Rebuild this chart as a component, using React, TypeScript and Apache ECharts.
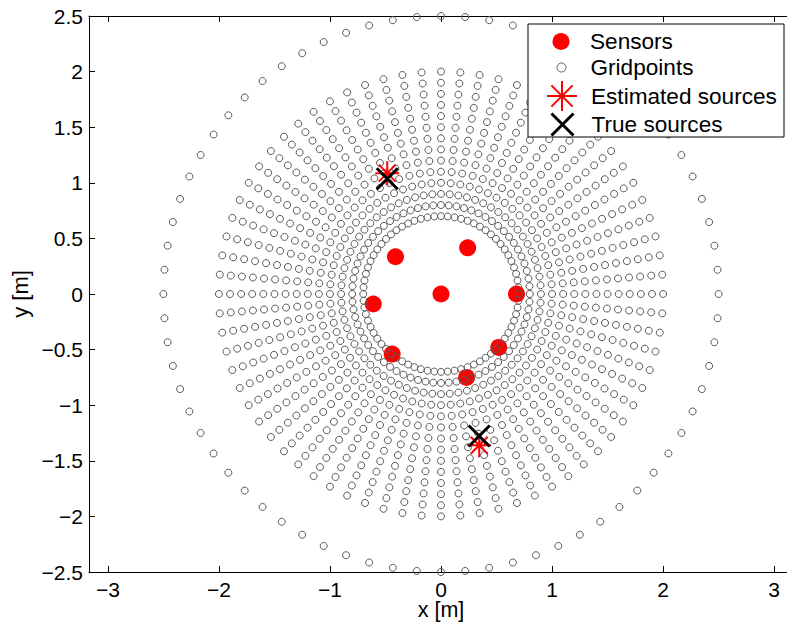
import React, { useEffect, useRef } from "react";
import * as echarts from "echarts";

// Sensor positions [m]
const sensorX = [0, 0.24, -0.41, -0.61, 0.68, 0.52, -0.44, 0.23];
const sensorY = [0, 0.415, 0.335, -0.09, 0, -0.48, -0.54, -0.75];

// Grid of candidate points: rings (radius in m) sampled every gridAngleStepDeg degrees
const gridRadii = [0.7, 0.8, 0.9, 1.0, 1.1, 1.2, 1.3, 1.4, 1.5, 1.6, 1.7, 1.8, 1.9, 2.0, 2.5];
const gridAngleStepDeg = 5;

// Estimated and true source positions [m]
const estX = [-0.484, 0.344];
const estY = [1.087, -1.36];
const trueX = [-0.484, 0.344];
const trueY = [1.036, -1.277];

// Axis ticks
const xTicks = [-3, -2, -1, 0, 1, 2, 3];
const xMin = -3.17;
const xMax = 3.17;
const yMin = -2.5;
const yMax = 2.5;
const yInterval = 0.5;

const FONT = "Liberation Sans";
const fmt = (v: number) => String(v).replace("-", "\u2212");

const ASTERISK =
  "path://M0,-1L0,1M-1,0L1,0M-0.707,-0.707L0.707,0.707M-0.707,0.707L0.707,-0.707";
const CROSS = "path://M-1,-1L1,1M-1,1L1,-1";

export default function App() {
  const ref = useRef<HTMLDivElement>(null);
  useEffect(() => {
    if (!ref.current) return;
    const chart = echarts.init(ref.current, null, { renderer: "svg" });

    const sensors = sensorX.map((x, i) => [x, sensorY[i]]);
    const gridPts: number[][] = [];
    const nAng = Math.round(360 / gridAngleStepDeg);
    gridRadii.forEach((r) => {
      for (let k = 0; k < nAng; k++) {
        const a = (k * gridAngleStepDeg * Math.PI) / 180;
        gridPts.push([r * Math.cos(a), r * Math.sin(a)]);
      }
    });
    const est = estX.map((x, i) => [x, estY[i]]);
    const tru = trueX.map((x, i) => [x, trueY[i]]);

    const tickStyle = { show: true, inside: true, length: 6, lineStyle: { color: "#000", width: 1 } };
    const lineStyle = { show: true, onZero: false, lineStyle: { color: "#000", width: 1 } };
    const labelStyle = { color: "#000", fontSize: 21, fontFamily: FONT };

    const legendText = { color: "#000", fontSize: 22.6, fontFamily: FONT };
    const iconCenterX = 561;
    const mkLegend = (name: string, top: number, h: number, extra: any = {}) => ({
      data: [name],
      left: iconCenterX - h / 2,
      top,
      orient: "vertical",
      padding: 0,
      itemWidth: 48,
      itemHeight: h,
      itemGap: 0,
      textStyle: legendText,
      selectedMode: false,
      ...extra,
    });

    chart.setOption({
      animation: false,
      backgroundColor: "#fff",
      grid: { left: 89, top: 16, width: 704, height: 556, outerBoundsMode: "none", containLabel: false },
      xAxis: [
        {
          type: "value",
          position: "bottom",
          min: xMin,
          max: xMax,
          axisLine: lineStyle,
          axisTick: { ...tickStyle, customValues: xTicks },
          axisLabel: { ...labelStyle, customValues: xTicks, margin: 7, formatter: fmt },
          splitLine: { show: false },
          name: "x [m]",
          nameLocation: "middle",
          nameGap: 27,
          nameMoveOverlap: false,
          nameTextStyle: { color: "#000", fontSize: 21.5, fontFamily: FONT },
        },
        {
          type: "value",
          position: "top",
          min: xMin,
          max: xMax,
          axisLine: lineStyle,
          axisTick: { ...tickStyle, customValues: xTicks },
          axisLabel: { show: false },
          splitLine: { show: false },
        },
      ],
      yAxis: [
        {
          type: "value",
          position: "left",
          min: yMin,
          max: yMax,
          interval: yInterval,
          axisLine: lineStyle,
          axisTick: tickStyle,
          axisLabel: { ...labelStyle, margin: 6, formatter: fmt },
          splitLine: { show: false },
          name: "y [m]",
          nameLocation: "middle",
          nameGap: 58,
          nameMoveOverlap: false,
          nameRotate: 90,
          nameTextStyle: { color: "#000", fontSize: 22, fontFamily: FONT },
        },
        {
          type: "value",
          position: "right",
          min: yMin,
          max: yMax,
          interval: yInterval,
          axisLine: lineStyle,
          axisTick: tickStyle,
          axisLabel: { show: false },
          splitLine: { show: false },
        },
      ],
      graphic: [
        {
          type: "rect",
          z: 3,
          shape: { x: 528, y: 24, width: 256, height: 113 },
          style: { fill: "#fff", stroke: "#000", lineWidth: 1 },
        },
      ],
      legend: [
        mkLegend("Sensors", 30, 17),
        mkLegend("Gridpoints", 56, 9, { itemStyle: { borderWidth: 1 } }),
        mkLegend("Estimated sources", 80, 30, { itemStyle: { borderWidth: 2 } }),
        mkLegend("True sources", 112, 22, { itemStyle: { borderWidth: 3 } }),
      ],
      series: [
        {
          name: "Sensors",
          type: "scatter",
          data: sensors,
          symbol: "circle",
          symbolSize: 17,
          itemStyle: { color: "#ff0000", opacity: 1 },
          z: 2,
        },
        {
          name: "Gridpoints",
          type: "scatter",
          data: gridPts,
          symbol: "circle",
          symbolSize: 7,
          itemStyle: { color: "rgba(0,0,0,0)", borderColor: "#5a5a5a", borderWidth: 1, opacity: 1 },
          z: 2,
        },
        {
          name: "Estimated sources",
          type: "scatter",
          data: est,
          symbol: ASTERISK,
          symbolSize: 24,
          itemStyle: { color: "#ff0000", borderColor: "#ff0000", borderWidth: 2, opacity: 1 },
          z: 2,
        },
        {
          name: "True sources",
          type: "scatter",
          data: tru,
          symbol: CROSS,
          symbolSize: 21,
          itemStyle: { color: "#000", borderColor: "#000", borderWidth: 3, opacity: 1 },
          z: 2,
        },
      ],
    });
    return () => chart.dispose();
  }, []);
  return (
    <div
      ref={ref}
      style={{ position: "fixed", left: 0, top: 0, width: 787, height: 624, background: "#fff" }}
    />
  );
}
